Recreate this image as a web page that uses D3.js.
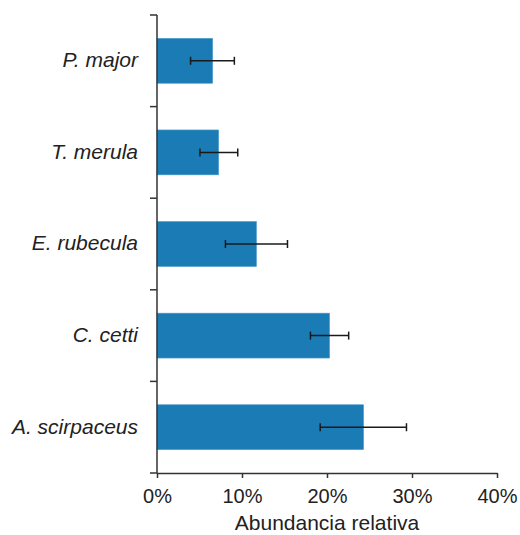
<!DOCTYPE html>
<html>
<head>
<meta charset="utf-8">
<script src="https://cdn.jsdelivr.net/npm/d3@7"></script>
<style>
  body { margin: 0; background: #fff; }
  text { font-family: "Liberation Sans", Arial, sans-serif; fill: #222; }
</style>
</head>
<body>
<div id="wrapper"></div>
<script>
// especies (de arriba a abajo)
const species = ["P. major", "T. merula", "E. rubecula", "C. cetti", "A. scirpaceus"];
const abundance = [6.55, 7.25, 11.7, 20.3, 24.3];
const errLow = [3.95, 5.05, 8.05, 18.05, 19.2];
const errHigh = [9.1, 9.5, 15.35, 22.55, 29.35];
const xTicks = [0, 10, 20, 30, 40];

const data = species.map((s, i) => ({
    name: s, value: abundance[i], lo: errLow[i], hi: errHigh[i]
}));

const dimension = {
    width: 520,
    height: 535,
    margin: { top: 15, left: 157, bottom: 62, right: 23 }
};
dimension.boundedWidth = dimension.width - dimension.margin.left - dimension.margin.right;
dimension.boundedHeight = dimension.height - dimension.margin.top - dimension.margin.bottom;

const svg = d3.select("#wrapper").append("svg")
    .attr("width", dimension.width)
    .attr("height", dimension.height);

const bounded = svg.append("g")
    .attr("transform", `translate(${dimension.margin.left}, ${dimension.margin.top})`);

const xScaler = d3.scaleLinear()
    .domain([0, 40])
    .range([0, dimension.boundedWidth]);

const yScaler = d3.scaleBand()
    .domain(species)
    .range([0, dimension.boundedHeight])
    .paddingInner(0.51)
    .paddingOuter(0.255);

// barras
bounded.selectAll("rect.bar")
    .data(data)
    .join("rect")
    .attr("class", "bar")
    .attr("x", 0)
    .attr("y", d => yScaler(d.name))
    .attr("width", d => xScaler(d.value))
    .attr("height", yScaler.bandwidth())
    .attr("fill", "#1b7bb5")
    .attr("stroke", "#4d9ccc")
    .attr("stroke-width", 0.6);

// barras de error
const errG = bounded.selectAll("g.err")
    .data(data)
    .join("g")
    .attr("class", "err")
    .attr("transform", d => `translate(0, ${yScaler(d.name) + yScaler.bandwidth() / 2})`);

errG.append("line")
    .attr("x1", d => xScaler(d.lo))
    .attr("x2", d => xScaler(d.hi))
    .attr("stroke", "#1a1a1a")
    .attr("stroke-width", 1.5);

errG.selectAll("line.cap")
    .data(d => [d.lo, d.hi])
    .join("line")
    .attr("class", "cap")
    .attr("x1", v => xScaler(v))
    .attr("x2", v => xScaler(v))
    .attr("y1", -4)
    .attr("y2", 4)
    .attr("stroke", "#1a1a1a")
    .attr("stroke-width", 1.5);

// eje x
const x_axis = d3.axisBottom(xScaler)
    .tickValues(xTicks)
    .tickFormat(d => d + "%")
    .tickSize(5)
    .tickPadding(11)
    .tickSizeOuter(0);

const gx = bounded.append("g")
    .attr("transform", `translate(0, ${dimension.boundedHeight})`)
    .call(x_axis);
gx.select(".domain").attr("stroke", "#333").attr("stroke-width", 1.5);
gx.selectAll(".tick line").attr("stroke", "#333").attr("stroke-width", 1.5);
gx.selectAll(".tick text")
    .attr("font-size", 20)
    .attr("font-family", "Liberation Sans, Arial, sans-serif")
    .attr("fill", "#222");

// eje y: marcas entre categorías
const bounds = d3.range(species.length + 1).map(i => i * yScaler.step());
bounded.append("line")
    .attr("x1", 0).attr("x2", 0)
    .attr("y1", 0).attr("y2", dimension.boundedHeight)
    .attr("stroke", "#333")
    .attr("stroke-width", 1.5);
bounded.selectAll("line.ytick")
    .data(bounds)
    .join("line")
    .attr("class", "ytick")
    .attr("x1", -7).attr("x2", 0)
    .attr("y1", d => d).attr("y2", d => d)
    .attr("stroke", "#333")
    .attr("stroke-width", 1.5);

bounded.selectAll("text.ylabel")
    .data(species)
    .join("text")
    .attr("class", "ylabel")
    .attr("x", -19)
    .attr("y", d => yScaler(d) + yScaler.bandwidth() / 2)
    .attr("dy", "0.3em")
    .attr("text-anchor", "end")
    .attr("font-size", 21)
    .attr("font-style", "italic")
    .text(d => d);

// título eje x
bounded.append("text")
    .attr("x", dimension.boundedWidth / 2)
    .attr("y", dimension.boundedHeight + 57)
    .attr("text-anchor", "middle")
    .attr("font-size", 21)
    .text("Abundancia relativa");
</script>
</body>
</html>
